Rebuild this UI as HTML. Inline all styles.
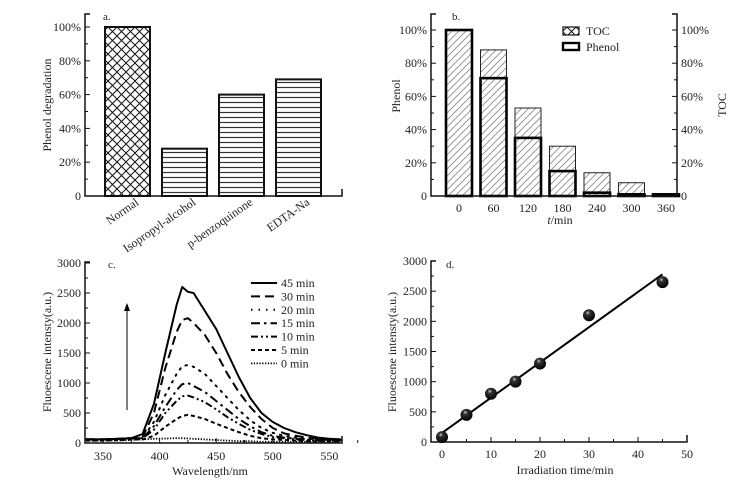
<!DOCTYPE html>
<html><head><meta charset="utf-8">
<style>
html,body{margin:0;padding:0;background:#fff;}
svg{display:block;}
svg text{font-family:"Liberation Serif","Times New Roman",Times,serif;fill:#222;}
</style></head>
<body>
<svg id="fig" width="750" height="489" viewBox="0 0 750 489" xmlns="http://www.w3.org/2000/svg">
<defs>
<pattern id="cross" width="9" height="9" patternUnits="userSpaceOnUse">
<path d="M0,0L9,9M9,0L0,9" stroke="#111" stroke-width="1"/>
</pattern>
<pattern id="horiz" width="6" height="5" patternUnits="userSpaceOnUse">
<path d="M0,2.5H6" stroke="#333" stroke-width="1.2"/>
</pattern>
<pattern id="diag" width="7" height="7" patternUnits="userSpaceOnUse">
<path d="M0,7L7,0M-1,1L1,-1M6,8L8,6" stroke="#888" stroke-width="0.8"/>
</pattern>
</defs>
<g id="pa"></g>
<g id="pb"></g>
<g id="pc"></g>
<g id="pd"></g>
</svg>
<script>
// Panel a data
const aCategories = ["Normal","Isopropyl-alcohol","p-benzoquinone","EDTA-Na"];
const aValues = [100, 28, 60, 69];
const aTicks = ["0","20%","40%","60%","80%","100%"];
// Panel b data
const bTimes = ["0","60","120","180","240","300","360"];
const bTOC = [100, 88, 53, 30, 14, 8, 1];
const bPhenol = [100, 71, 35, 15, 2, 1, 1];
const bTicks = ["0","20%","40%","60%","80%","100%"];
// Panel c data
const cWave = [335,350,365,375,385,395,405,415,420,425,430,440,450,460,470,480,490,500,510,520,530,540,550,560];
const c45 = [60,60,70,80,150,650,1500,2300,2600,2520,2500,2200,1900,1500,1100,750,500,350,250,180,130,90,70,60];
const c30 = [60,60,70,80,100,500,1250,1850,2050,2080,2000,1800,1500,1150,850,600,400,250,160,120,90,70,60,60];
const c20 = [60,60,70,80,80,350,800,1150,1280,1300,1270,1150,950,750,550,380,250,170,120,90,70,60,50,50];
const c15 = [60,60,70,80,80,280,600,880,980,1000,950,850,700,550,400,280,180,120,90,70,60,50,50,40];
const c10 = [60,60,70,80,80,220,500,700,780,790,760,680,560,430,320,220,150,100,80,60,50,40,40,40];
const c5 = [40,40,50,60,60,120,270,400,450,470,450,400,320,250,180,120,80,60,50,40,30,30,30,30];
const c0 = [40,40,40,50,60,70,75,80,80,75,70,60,50,40,30,30,20,20,20,20,20,20,20,20];
const cLabels = ["45 min","30 min","20 min","15 min","10  min","5 min","0 min"];
const cXTicks = [350,400,450,500,550];
const cYTicks = [0,500,1000,1500,2000,2500,3000];
// Panel d data
const dTime = [0,5,10,15,20,30,45];
const dIntensity = [80,450,800,1000,1300,2100,2650];
const dFitX = [0,45];
const dFitY = [150,2780];
const dXTicks = [0,10,20,30,40,50];
const dYTicks = [0,500,1000,1500,2000,2500,3000];

const NS="http://www.w3.org/2000/svg";
function mk(parent,tag,attrs,txt){const e=document.createElementNS(NS,tag);for(const k in attrs)e.setAttribute(k,attrs[k]);if(txt!==undefined)e.textContent=txt;parent.appendChild(e);return e;}

// ---------- Panel a ----------
(function(){
 const g=document.getElementById('pa');
 const x0=85,xEnd=342,yTop=14,y0=196,y100=27;
 const ya=v=>y0-(y0-y100)*v/100;
 const starts=[105,162,219,276], w=45;
 aValues.forEach((v,i)=>{
  const r=mk(g,'rect',{x:starts[i],y:ya(v),width:w,height:y0-ya(v),fill:i===0?'url(#cross)':'url(#horiz)',stroke:'#111','stroke-width':2});
  
  
  const t=mk(g,'text',{x:starts[i]+w/2+12,y:204,'font-size':12,'text-anchor':'end',transform:`rotate(-35 ${starts[i]+w/2+12} 204)`},aCategories[i]);
  
  
 });
 mk(g,'path',{d:`M${x0+5},${yTop}H${x0}V${y0}H${xEnd}V${y0-7}`,fill:'none',stroke:'#111','stroke-width':1.5});
 for(let k=0;k<=10;k++){const y=ya(k*10);mk(g,'line',{x1:x0,x2:x0+(k%2?3:5),y1:y,y2:y,stroke:'#111'});}
 aTicks.forEach((s,i)=>{const t=mk(g,'text',{x:x0-4,y:ya(i*20)+4,'font-size':12,'text-anchor':'end'},s);});
 mk(g,'text',{x:103,y:20,'font-size':11},'a.');
 const yt=mk(g,'text',{x:51,y:105,'font-size':12,'text-anchor':'middle',transform:'rotate(-90 51 105)'},'Phenol degradation');
 
})();

// ---------- Panel b ----------
(function(){
 const g=document.getElementById('pb');
 const x0=431,x1=677,yTop=14,y0=196,y100=30;
 const yb=v=>y0-(y0-y100)*v/100;
 const xs=i=>446+i*34.5, w=26;
 bTOC.forEach((v,i)=>{
  const r=mk(g,'rect',{x:xs(i),y:yb(v),width:w,height:y0-yb(v),fill:'url(#diag)',stroke:'#222','stroke-width':1});
  
  
 });
 bPhenol.forEach((v,i)=>{
  const r=mk(g,'rect',{x:xs(i),y:yb(v),width:w,height:y0-yb(v),fill:'none',stroke:'#000','stroke-width':2.6});
  
  
  const t=mk(g,'text',{x:xs(i)+w/2,y:212,'font-size':12,'text-anchor':'middle'},bTimes[i]);
  
 });
 mk(g,'path',{d:`M${x0+5},${yTop}H${x0}V${y0}H${x1}V${yTop}H${x1-5}`,fill:'none',stroke:'#111','stroke-width':1.5});
 for(let k=0;k<=10;k++){const y=yb(k*10);mk(g,'line',{x1:x0,x2:x0+(k%2?3:5),y1:y,y2:y,stroke:'#111'});mk(g,'line',{x1:x1,x2:x1-(k%2?3:5),y1:y,y2:y,stroke:'#111'});}
 bTicks.forEach((s,i)=>{mk(g,'text',{x:x0-4,y:yb(i*20)+4,'font-size':12,'text-anchor':'end'},s);mk(g,'text',{x:x1+4,y:yb(i*20)+4,'font-size':12},s);});
 mk(g,'text',{x:452,y:20,'font-size':11},'b.');
 const lg=mk(g,'g',{});
 mk(lg,'rect',{x:563,y:27,width:16,height:8,fill:'url(#cross)',stroke:'#111','stroke-width':1.2});
 mk(lg,'text',{x:586,y:35,'font-size':12},'TOC');
 mk(lg,'rect',{x:563,y:43,width:16,height:7,fill:'none',stroke:'#000','stroke-width':2.4});
 mk(lg,'text',{x:586,y:51,'font-size':12},'Phenol');
 const xt=mk(g,'text',{x:560,y:224,'font-size':12,'text-anchor':'middle'});
 xt.innerHTML='<tspan font-style="italic">t</tspan>/min';
 
 mk(g,'text',{x:400,y:96,'font-size':12,'text-anchor':'middle',transform:'rotate(-90 400 96)'},'Phenol');
 mk(g,'text',{x:726,y:105,'font-size':12,'text-anchor':'middle',transform:'rotate(-90 726 105)'},'TOC');
})();

// ---------- Panel c ----------
(function(){
 const g=document.getElementById('pc');
 const x0=85,xEnd=342,yTop=262,y0=443;
 const xc=w=>103+(w-350)*(56.6/50);
 const yc=v=>y0-v*0.06;
 const series=[c45,c30,c20,c15,c10,c5,c0];
 const dashes=['', '9,5', '1.5,6', '9,4,2.5,4', '7,3,2,3,2,3', '4,3', '1.3,1.5'];
 const widths=[2,2,2,2,2,2,1.8];
 series.forEach((s,i)=>{
  const d=s.map((v,j)=>(j?'L':'M')+xc(cWave[j]).toFixed(1)+','+yc(v).toFixed(1)).join('');
  const p=mk(g,'path',{d:d,fill:'none',stroke:'#000','stroke-width':widths[i],'stroke-dasharray':dashes[i],'stroke-linecap':i===2?'round':'butt','stroke-linejoin':'round'});
  
  
  const ly=283+i*13.4;
  mk(g,'line',{x1:251,x2:277,y1:ly,y2:ly,stroke:'#000','stroke-width':widths[i],'stroke-dasharray':dashes[i]});
  mk(g,'text',{x:281,y:ly+4,'font-size':12},cLabels[i]);
 });
 mk(g,'path',{d:`M${x0+5},${yTop}H${x0}V${y0}H${xEnd}V${y0-7}`,fill:'none',stroke:'#111','stroke-width':1.5});
 cYTicks.forEach(v=>{mk(g,'line',{x1:x0,x2:x0+5,y1:yc(v),y2:yc(v),stroke:'#111'});if(v<3000)mk(g,'line',{x1:x0,x2:x0+3,y1:yc(v+250),y2:yc(v+250),stroke:'#111'});mk(g,'text',{x:x0-4,y:yc(v)+4,'font-size':12,'text-anchor':'end'},String(v));});
 cXTicks.forEach(w=>{mk(g,'line',{x1:xc(w),x2:xc(w),y1:y0,y2:y0-5,stroke:'#111'});mk(g,'line',{x1:xc(w+25),x2:xc(w+25),y1:y0,y2:y0-3,stroke:'#111'});mk(g,'text',{x:xc(w),y:460,'font-size':12,'text-anchor':'middle'},String(w));});
 mk(g,'text',{x:108,y:268,'font-size':11},'c.');
 mk(g,'line',{x1:127,x2:127,y1:410,y2:310,stroke:'#000','stroke-width':1});
 mk(g,'path',{d:'M124,311L127,303L130,311Z',fill:'#000'});
 mk(g,'text',{x:210,y:475,'font-size':12,'text-anchor':'middle'},'Wavelength/nm');
 mk(g,'text',{x:51,y:352,'font-size':12,'text-anchor':'middle',transform:'rotate(-90 51 352)'},'Fluoescene intensty(a.u.)');
})();

// ---------- Panel d ----------
(function(){
 const g=document.getElementById('pd');
 const x0=431,yTop=261,y0=442,xEnd=687;
 const xd=t=>442+t*4.9;
 const yd=v=>y0-v*(y0-yTop)/3000;
 mk(g,'radialGradient',{id:'ball',cx:'0.4',cy:'0.3',r:'0.7'}).innerHTML='<stop offset="0" stop-color="#ccc"/><stop offset="0.25" stop-color="#333"/><stop offset="1" stop-color="#000"/>';
 const fit=mk(g,'line',{x1:xd(dFitX[0]),y1:yd(dFitY[0]),x2:xd(dFitX[1]),y2:yd(dFitY[1]),stroke:'#000','stroke-width':2});
 
 dTime.forEach((t,i)=>{
  const c=mk(g,'circle',{cx:xd(t),cy:yd(dIntensity[i]),r:6,fill:'url(#ball)'});
  
  
 });
 mk(g,'path',{d:`M${x0+5},${yTop}H${x0}V${y0}H${xEnd}V${y0-7}`,fill:'none',stroke:'#111','stroke-width':1.5});
 dYTicks.forEach(v=>{mk(g,'line',{x1:x0,x2:x0+5,y1:yd(v),y2:yd(v),stroke:'#111'});if(v<3000)mk(g,'line',{x1:x0,x2:x0+3,y1:yd(v+250),y2:yd(v+250),stroke:'#111'});mk(g,'text',{x:x0-4,y:yd(v)+4,'font-size':12,'text-anchor':'end'},String(v));});
 dXTicks.forEach(t=>{mk(g,'line',{x1:xd(t),x2:xd(t),y1:y0,y2:y0-5,stroke:'#111'});if(t<50)mk(g,'line',{x1:xd(t+5),x2:xd(t+5),y1:y0,y2:y0-3,stroke:'#111'});mk(g,'text',{x:xd(t),y:458,'font-size':12,'text-anchor':'middle'},String(t));});
 mk(g,'text',{x:446,y:268,'font-size':11},'d.');
 mk(g,'text',{x:565,y:474,'font-size':12,'text-anchor':'middle'},'Irradiation time/min');
 mk(g,'text',{x:396,y:352,'font-size':12,'text-anchor':'middle',transform:'rotate(-90 396 352)'},'Fluoescene intensty(a.u.)');
})();
</script>
</body></html>
